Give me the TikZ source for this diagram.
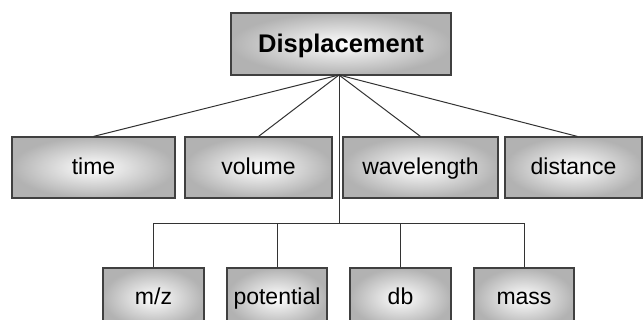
\documentclass[tikz,border=0pt]{standalone}
\usepackage{fontspec}
\setmainfont{Liberation Sans}
\begin{document}
\begin{tikzpicture}[x=1pt,y=-1pt,
  box/.style={draw=black!75, line width=1.1pt, inner color=white, outer color=black!30,
    rectangle, inner sep=0pt, font=\fontsize{23}{26}\selectfont, text=black,
    text height=17pt, text depth=3pt},
  link/.style={draw=black!80, line width=1pt}]
\useasboundingbox (0,0) rectangle (643,320);
\clip (0,0) rectangle (643,320);
\node[box, minimum width=220pt, minimum height=62pt, font=\fontsize{25.5}{30}\selectfont\bfseries,
  text height=19pt, text depth=1pt] (disp) at (341,44) {Displacement};
\node[box, minimum width=163pt, minimum height=61pt] (time) at (93.5,167.5) {time};
\node[box, minimum width=147pt, minimum height=61pt] (volume) at (258.5,167.5) {volume};
\node[box, minimum width=155pt, minimum height=61pt] (wave) at (420.5,167.5) {wavelength};
\node[box, minimum width=137pt, minimum height=61pt] (dist) at (573.5,167.5) {distance};
\node[box, minimum width=101pt, minimum height=60pt] (mz) at (153.5,298) {m/z};
\node[box, minimum width=100pt, minimum height=60pt] (pot) at (277,298) {potential};
\node[box, minimum width=101pt, minimum height=60pt] (db) at (400.5,298) {db};
\node[box, minimum width=100pt, minimum height=60pt] (mass) at (524,298) {mass};
\coordinate (hub) at (339,75);
\coordinate (bar) at (339,224);
\draw[link] (hub) -- (time.north);
\draw[link] (hub) -- (volume.north);
\draw[link] (hub) -- (wave.north);
\draw[link] (hub) -- ([xshift=4pt]dist.north);
\draw[link] (hub) -- (bar);
\draw[link] (mz.north) |- (bar);
\draw[link] (mass.north) |- (bar);
\draw[link] (pot.north) -- (pot.north |- bar);
\draw[link] (db.north) -- (db.north |- bar);
\end{tikzpicture}
\end{document}
